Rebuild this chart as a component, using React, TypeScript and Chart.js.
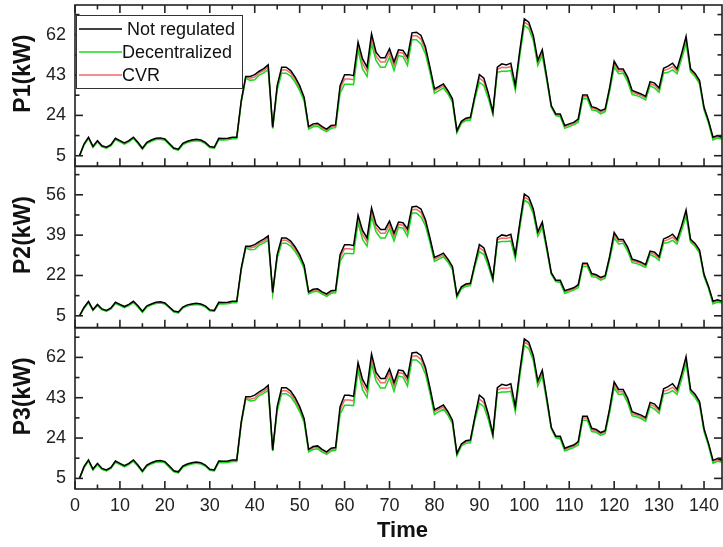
import React, { useEffect, useRef } from "react";
import { Chart, registerables } from "chart.js";

Chart.register(...registerables);

// ---------- data ----------
const X_MIN = 0;
const X_MAX = 144;
const X_MAJOR_TICKS = [0, 10, 20, 30, 40, 50, 60, 70, 80, 90, 100, 110, 120, 130, 140];
const X_MINOR_TICKS = [5, 15, 25, 35, 45, 55, 65, 75, 85, 95, 105, 115, 125, 135];
const X_TITLE = "Time";

const SERIES_NAMES = ["Not regulated", "Decentralized", "CVR"];
const SERIES_COLORS = ["#000000", "#1ed81e", "#f06a6a"];

const P1_TICKS = [5, 24, 43, 62];
const P1_MINOR = [14.5, 33.5, 52.5, 71.5];
const P2_TICKS = [5, 22, 39, 56];
const P2_MINOR = [13.5, 30.5, 47.5, 64.5];
const P3_TICKS = [5, 24, 43, 62];
const P3_MINOR = [14.5, 33.5, 52.5, 71.5];
const P1_RANGE = [0, 76];
const P2_RANGE = [0, 68];
const P3_RANGE = [0, 76];
const PANEL_TITLES = ["P1(kW)", "P2(kW)", "P3(kW)"];

const P1_NOT_REGULATED = [5.0,10.5,13.7,9.4,12.1,9.7,9.0,10.2,13.2,12.1,
11.0,12.1,13.7,11.3,8.5,11.3,12.4,13.2,13.4,12.9,
10.8,8.6,8.1,10.8,11.8,12.4,12.7,12.4,11.3,9.3,
9.0,13.2,13.1,13.2,13.7,13.7,31.0,42.3,42.3,43.2,
44.8,46.0,47.8,18.4,38.0,46.7,46.7,45.1,42.0,38.0,
32.5,18.7,20.0,20.3,18.7,17.5,19.2,19.5,38.0,43.2,
43.2,42.7,58.5,50.6,46.7,62.4,53.8,51.1,51.1,55.4,
49.1,54.9,54.6,51.4,62.9,63.2,61.7,56.2,46.7,36.5,
37.6,38.8,35.7,31.8,16.8,21.2,22.7,23.1,33.3,43.2,
41.5,34.5,25.5,46.7,48.3,47.8,48.6,38.0,54.6,69.5,
67.9,61.7,49.9,54.9,42.0,28.6,24.7,24.7,19.2,20.0,
20.7,22.3,33.6,33.6,28.1,27.5,26.2,27.0,37.2,49.5,
45.9,45.9,42.0,35.7,34.9,34.1,32.9,39.9,39.2,36.9,
46.2,47.2,48.6,45.9,53.0,61.2,45.9,43.8,40.4,27.8,
21.5,13.7,14.5,13.7];

const P1_DECENTRALIZED = [4.8,10.0,13.1,8.9,11.5,9.2,8.5,9.7,12.6,11.5,
10.4,11.5,13.1,10.7,8.0,10.7,11.8,12.6,12.8,12.3,
10.2,8.1,7.6,10.2,11.2,11.8,12.1,11.8,10.7,8.8,
8.5,12.5,12.4,12.5,13.0,13.0,30.0,41.5,40.5,40.8,
43.0,44.0,45.5,17.8,36.0,43.9,43.9,42.5,39.6,35.8,
30.8,17.5,18.6,18.9,17.4,16.3,17.9,18.2,34.5,38.7,
38.7,38.5,54.6,45.9,42.3,57.7,49.9,46.7,46.7,51.4,
45.1,52.2,51.7,47.5,59.6,59.6,57.7,53.0,44.3,34.4,
35.7,36.9,34.1,30.2,15.7,20.3,21.5,21.8,31.8,39.6,
38.0,32.0,24.5,44.3,44.8,44.8,45.1,35.7,52.2,66.4,
64.8,59.3,47.5,52.2,40.4,27.8,23.9,23.4,17.9,18.7,
19.5,20.7,31.8,31.8,26.6,26.2,24.7,25.7,35.4,46.7,
43.6,43.9,39.9,33.8,33.3,32.5,31.3,38.0,36.9,34.9,
43.9,44.3,45.4,43.6,50.6,58.0,44.6,42.3,38.8,26.6,
20.4,12.4,13.3,12.8];

const P1_CVR = [4.9,10.2,13.4,9.1,11.8,9.4,8.7,9.9,12.9,11.8,
10.7,11.8,13.4,11.0,8.2,11.0,12.1,12.9,13.1,12.6,
10.5,8.3,7.8,10.5,11.5,12.1,12.4,12.1,11.0,9.0,
8.7,12.9,12.8,12.9,13.4,13.4,30.5,41.9,41.5,42.1,
44.0,45.1,46.8,18.1,37.1,45.4,45.4,43.9,40.9,37.0,
31.7,18.2,19.4,19.7,18.1,16.9,18.6,18.9,36.4,41.1,
41.1,40.8,56.8,48.5,44.7,60.3,52.0,49.1,49.1,53.6,
47.3,53.7,53.3,49.6,61.4,61.6,59.9,54.8,45.6,35.6,
36.8,37.9,35.0,31.1,16.3,20.8,22.2,22.5,32.7,41.6,
39.9,33.4,25.0,45.7,46.7,46.4,47.0,37.0,53.5,68.0,
66.5,60.6,48.8,53.7,41.3,28.2,24.3,24.1,18.6,19.4,
20.1,21.6,32.8,32.8,27.4,26.9,25.5,26.4,36.4,48.2,
44.8,45.0,41.0,34.8,34.2,33.4,32.2,39.0,38.1,36.0,
45.1,45.8,47.0,44.8,51.8,59.6,45.3,43.1,39.6,27.2,
21.0,13.1,13.9,13.3];

const P2_NOT_REGULATED = [5.0,8.5,11.1,7.6,9.8,7.9,7.3,8.3,10.7,9.8,
8.9,9.8,11.1,9.2,6.9,9.2,10.0,10.7,10.9,10.4,
8.7,7.0,6.6,8.7,9.6,10.0,10.3,10.0,9.2,7.5,
7.3,10.7,10.6,10.7,11.1,11.1,25.1,34.3,34.3,35.0,
36.3,37.3,38.7,14.9,30.8,37.8,37.8,36.5,34.0,30.8,
26.3,15.1,16.2,16.4,15.1,14.2,15.6,15.8,30.8,35.0,
35.0,34.6,47.4,41.0,37.8,50.5,43.6,41.4,41.4,44.9,
39.8,44.5,44.2,41.6,50.9,51.2,50.0,45.5,37.8,29.6,
30.5,31.4,28.9,25.8,13.6,17.2,18.4,18.7,27.0,35.0,
33.6,27.9,20.7,37.8,39.1,38.7,39.4,30.8,44.2,56.3,
55.0,50.0,40.4,44.5,34.0,23.2,20.0,20.0,15.6,16.2,
16.8,18.1,27.2,27.2,22.8,22.3,21.2,21.9,30.1,40.1,
37.2,37.2,34.0,28.9,28.3,27.6,26.6,32.3,31.8,29.9,
37.4,38.2,39.4,37.2,42.9,49.6,37.2,35.5,32.7,22.5,
17.4,11.1,11.7,11.1];

const P2_DECENTRALIZED = [4.9,8.1,10.6,7.2,9.3,7.5,6.9,7.9,10.2,9.3,
8.4,9.3,10.6,8.7,6.5,8.7,9.6,10.2,10.4,10.0,
8.3,6.6,6.2,8.3,9.1,9.6,9.8,9.6,8.7,7.1,
6.9,10.1,10.0,10.1,10.5,10.5,24.3,33.6,32.8,33.0,
34.8,35.6,36.9,14.4,29.2,35.6,35.6,34.4,32.1,29.0,
24.9,14.2,15.1,15.3,14.1,13.2,14.5,14.7,27.9,31.3,
31.3,31.2,44.2,37.2,34.3,46.7,40.4,37.8,37.8,41.6,
36.5,42.3,41.9,38.5,48.3,48.3,46.7,42.9,35.9,27.9,
28.9,29.9,27.6,24.5,12.7,16.4,17.4,17.7,25.8,32.1,
30.8,25.9,19.8,35.9,36.3,36.3,36.5,28.9,42.3,53.8,
52.5,48.0,38.5,42.3,32.7,22.5,19.4,19.0,14.5,15.1,
15.8,16.8,25.8,25.8,21.5,21.2,20.0,20.8,28.7,37.8,
35.3,35.6,32.3,27.4,27.0,26.3,25.4,30.8,29.9,28.3,
35.6,35.9,36.8,35.3,41.0,47.0,36.1,34.3,31.4,21.5,
16.5,10.0,10.8,10.4];

const P2_CVR = [5.0,8.3,10.9,7.4,9.6,7.6,7.0,8.0,10.4,9.6,
8.7,9.6,10.9,8.9,6.6,8.9,9.8,10.4,10.6,10.2,
8.5,6.7,6.3,8.5,9.3,9.8,10.0,9.8,8.9,7.3,
7.0,10.4,10.4,10.4,10.9,10.9,24.7,33.9,33.6,34.1,
35.6,36.5,37.9,14.7,30.1,36.8,36.8,35.6,33.1,30.0,
25.7,14.7,15.7,16.0,14.7,13.7,15.1,15.3,29.5,33.3,
33.3,33.0,46.0,39.3,36.2,48.8,42.1,39.8,39.8,43.4,
38.3,43.5,43.2,40.2,49.7,49.9,48.5,44.4,36.9,28.8,
29.8,30.7,28.4,25.2,13.2,16.8,18.0,18.2,26.5,33.7,
32.3,27.1,20.3,37.0,37.8,37.6,38.1,30.0,43.3,55.1,
53.9,49.1,39.5,43.5,33.5,22.8,19.7,19.5,15.1,15.7,
16.3,17.5,26.6,26.6,22.2,21.8,20.7,21.4,29.5,39.0,
36.3,36.5,33.2,28.2,27.7,27.1,26.1,31.6,30.9,29.2,
36.5,37.1,38.1,36.3,42.0,48.3,36.7,34.9,32.1,22.0,
17.0,10.6,11.3,10.8];

const P3_NOT_REGULATED = [5.0,10.5,13.7,9.4,12.1,9.7,9.0,10.2,13.2,12.1,
11.0,12.1,13.7,11.3,8.5,11.3,12.4,13.2,13.4,12.9,
10.8,8.6,8.1,10.8,11.8,12.4,12.7,12.4,11.3,9.3,
9.0,13.2,13.1,13.2,13.7,13.7,31.6,43.4,43.4,44.2,
45.8,47.0,48.8,18.4,38.8,47.7,47.7,46.1,43.0,38.8,
33.1,18.7,20.0,20.3,18.7,17.5,19.2,19.5,38.8,44.2,
44.2,43.7,59.6,51.6,47.7,63.6,54.9,52.1,52.1,56.5,
50.1,56.0,55.7,52.4,64.1,64.4,62.9,57.3,47.7,37.3,
38.4,39.6,36.5,32.4,16.8,21.2,22.7,23.1,34.0,44.2,
42.4,35.2,25.8,47.7,49.3,48.8,49.6,38.8,55.7,70.7,
69.1,62.9,50.9,56.0,42.9,29.1,24.9,24.9,19.2,20.0,
20.7,22.3,34.3,34.3,28.6,28.0,26.6,27.5,38.0,50.5,
46.9,46.9,42.9,36.4,35.6,34.8,33.6,40.8,40.0,37.6,
47.2,48.2,49.6,46.9,54.1,62.4,46.9,44.7,41.2,28.4,
21.5,13.5,14.3,13.5];

const P3_DECENTRALIZED = [4.8,10.0,13.1,8.9,11.5,9.2,8.5,9.7,12.6,11.5,
10.4,11.5,13.1,10.7,8.0,10.7,11.8,12.6,12.8,12.3,
10.2,8.1,7.6,10.2,11.2,11.8,12.1,11.8,10.7,8.8,
8.5,12.5,12.4,12.5,13.0,13.0,30.6,42.5,41.5,41.8,
44.0,45.0,46.5,17.8,36.7,44.9,44.9,43.5,40.4,36.5,
31.4,17.5,18.6,18.9,17.4,16.3,17.9,18.2,35.2,39.5,
39.5,39.3,55.7,46.8,43.1,58.9,50.9,47.6,47.6,52.4,
46.0,53.2,52.7,48.5,60.8,60.8,58.9,54.1,45.2,35.1,
36.4,37.6,34.8,30.8,15.7,20.3,21.5,21.8,32.4,40.4,
38.8,32.6,24.7,45.2,45.7,45.7,46.0,36.4,53.2,67.7,
66.1,60.5,48.5,53.2,41.2,28.4,24.1,23.6,17.9,18.7,
19.5,20.7,32.4,32.4,27.1,26.7,25.2,26.2,36.1,47.6,
44.5,44.8,40.7,34.5,34.0,33.2,31.9,38.8,37.6,35.6,
44.8,45.2,46.3,44.5,51.6,59.2,45.5,43.1,39.6,27.1,
20.4,12.2,13.1,12.6];

const P3_CVR = [4.9,10.2,13.4,9.1,11.8,9.4,8.7,9.9,12.9,11.8,
10.7,11.8,13.4,11.0,8.2,11.0,12.1,12.9,13.1,12.6,
10.5,8.3,7.8,10.5,11.5,12.1,12.4,12.1,11.0,9.0,
8.7,12.9,12.8,12.9,13.4,13.4,31.1,42.7,42.3,42.9,
44.9,46.0,47.7,18.1,37.8,46.3,46.3,44.8,41.7,37.7,
32.3,18.2,19.4,19.7,18.1,16.9,18.6,18.9,37.1,41.9,
41.9,41.6,57.9,49.5,45.6,61.5,53.0,50.1,50.1,54.7,
48.2,54.8,54.4,50.6,62.6,62.8,61.1,55.9,46.5,36.3,
37.5,38.7,35.7,31.7,16.3,20.8,22.2,22.5,33.4,42.4,
40.7,34.1,25.2,46.6,47.6,47.3,47.9,37.7,54.6,69.4,
67.8,61.8,49.8,54.8,42.1,28.8,24.5,24.3,18.6,19.4,
20.1,21.6,33.5,33.5,27.9,27.4,26.0,26.9,37.1,49.2,
45.7,45.9,41.8,35.5,34.9,34.1,32.8,39.8,38.9,36.7,
46.0,46.7,47.9,45.7,52.8,60.8,46.2,44.0,40.4,27.7,
21.0,12.9,13.7,13.1];

// ---------- config built from the data ----------
const FONT = "'Liberation Sans', Arial, Helvetica, sans-serif";
const INK = "#222222";

const PANELS = [
  { axis: "y1", title: PANEL_TITLES[0], ticks: P1_TICKS, minor: P1_MINOR, range: P1_RANGE, series: [P1_NOT_REGULATED, P1_DECENTRALIZED, P1_CVR] },
  { axis: "y2", title: PANEL_TITLES[1], ticks: P2_TICKS, minor: P2_MINOR, range: P2_RANGE, series: [P2_NOT_REGULATED, P2_DECENTRALIZED, P2_CVR] },
  { axis: "y3", title: PANEL_TITLES[2], ticks: P3_TICKS, minor: P3_MINOR, range: P3_RANGE, series: [P3_NOT_REGULATED, P3_DECENTRALIZED, P3_CVR] },
];

function toPoints(values: number[]) {
  return values.map((v, i) => ({ x: i + 1, y: v }));
}

const MAJOR_LEN = 8;
const MINOR_LEN = 4.5;

const framePlugin = {
  id: "originFrames",
  afterDraw(chart: any) {
    const ctx: CanvasRenderingContext2D = chart.ctx;
    const { left, right } = chart.chartArea;
    const xs = chart.scales.x;
    const line = (x1: number, y1: number, x2: number, y2: number) => {
      ctx.beginPath();
      ctx.moveTo(x1, y1);
      ctx.lineTo(x2, y2);
      ctx.stroke();
    };
    ctx.save();
    ctx.strokeStyle = INK;
    ctx.lineWidth = 1.6;
    PANELS.forEach((p, idx) => {
      const ys = chart.scales[p.axis];
      const top = ys.top;
      const bottom = ys.bottom;
      ctx.strokeRect(left, top, right - left, bottom - top);
      p.ticks.forEach((v) => {
        const y = ys.getPixelForValue(v);
        line(left, y, left + MAJOR_LEN, y);
        line(right, y, right - MAJOR_LEN, y);
      });
      p.minor.forEach((v) => {
        const y = ys.getPixelForValue(v);
        line(left, y, left + MINOR_LEN, y);
        line(right, y, right - MINOR_LEN, y);
      });
      X_MAJOR_TICKS.forEach((v) => {
        const x = xs.getPixelForValue(v);
        line(x, bottom, x, bottom - MAJOR_LEN);
        if (idx === 0) line(x, top, x, top + MAJOR_LEN);
      });
      X_MINOR_TICKS.forEach((v) => {
        const x = xs.getPixelForValue(v);
        line(x, bottom, x, bottom - MINOR_LEN);
        if (idx === 0) line(x, top, x, top + MINOR_LEN);
      });
      // axis title
      ctx.save();
      ctx.translate(24, (top + bottom) / 2 - 12);
      ctx.rotate(-Math.PI / 2);
      ctx.fillStyle = "#111";
      ctx.font = `bold 23px ${FONT}`;
      ctx.textAlign = "center";
      ctx.textBaseline = "middle";
      ctx.fillText(p.title, 0, 0);
      ctx.restore();
    });

    // x title
    ctx.fillStyle = "#111";
    ctx.font = `bold 22px ${FONT}`;
    ctx.textAlign = "center";
    ctx.textBaseline = "middle";
    ctx.fillText(X_TITLE, (left + right) / 2 + 4, 531);

    // legend inside top panel
    const ys1 = chart.scales.y1;
    const lx = left + 1;
    const ly = ys1.top + 10;
    const lw = 166;
    const lh = 73;
    ctx.fillStyle = "#ffffff";
    ctx.fillRect(lx, ly, lw, lh);
    ctx.lineWidth = 1;
    ctx.strokeStyle = "#333";
    ctx.strokeRect(lx + 0.5, ly + 0.5, lw, lh);
    ctx.font = `18px ${FONT}`;
    ctx.textAlign = "left";
    ctx.textBaseline = "middle";
    SERIES_NAMES.forEach((name, i) => {
      const cy = ly + 14 + i * 23;
      ctx.strokeStyle = SERIES_COLORS[i];
      ctx.lineWidth = 1.5;
      line(lx + 3, cy, lx + 46, cy);
      ctx.fillStyle = "#111";
      ctx.fillText(name, lx + (i === 0 ? 51 : 46), cy + 1);
    });
    ctx.restore();
  },
};

function yScale(p: any, weight: number) {
  return {
    type: "linear",
    position: "left",
    stack: "panels",
    stackWeight: 1,
    weight,
    min: p.range[0],
    max: p.range[1],
    grid: { display: false, drawTicks: false, tickLength: 0 },
    border: { display: false },
    ticks: {
      padding: 9,
      color: INK,
      font: { family: FONT, size: 18 },
    },
    afterBuildTicks: (s: any) => {
      s.ticks = p.ticks.map((v: number) => ({ value: v }));
    },
    afterFit: (s: any) => {
      s.width = 75;
      s.paddingTop = 0;
      s.paddingBottom = 0;
    },
  };
}

export default function App() {
  const ref = useRef<HTMLCanvasElement>(null);
  useEffect(() => {
    if (!ref.current) return;
    const datasets: any[] = [];
    PANELS.forEach((p) => {
      p.series.forEach((vals, i) => {
        datasets.push({
          label: `${p.title} ${SERIES_NAMES[i]}`,
          data: toPoints(vals),
          yAxisID: p.axis,
          borderColor: SERIES_COLORS[i],
          backgroundColor: SERIES_COLORS[i],
          borderWidth: 1.5,
          pointRadius: 0,
          tension: 0,
          fill: false,
        });
      });
    });
    const chart = new Chart(ref.current, {
      type: "line",
      data: { datasets },
      options: {
        animation: false,
        responsive: false,
        maintainAspectRatio: false,
        layout: { padding: { top: 5, right: 1, left: 0, bottom: 0 } },
        plugins: { legend: { display: false }, tooltip: { enabled: false } },
        scales: {
          x: {
            type: "linear",
            position: "bottom",
            min: X_MIN,
            max: X_MAX,
            grid: { display: false, drawTicks: false, tickLength: 0 },
            border: { display: false },
            ticks: {
              padding: 6,
              color: INK,
              autoSkip: false,
              maxRotation: 0,
              font: { family: FONT, size: 18 },
            },
            afterBuildTicks: (s: any) => {
              s.ticks = X_MAJOR_TICKS.map((v) => ({ value: v }));
            },
            afterFit: (s: any) => {
              s.height = 58;
              s.paddingLeft = 0;
              s.paddingRight = 0;
            },
          },
          y3: yScale(PANELS[2], 1),
          y2: yScale(PANELS[1], 2),
          y1: yScale(PANELS[0], 3),
        } as any,
      },
      plugins: [framePlugin],
    } as any);
    return () => chart.destroy();
  }, []);
  return (
    <div style={{ position: "absolute", left: 0, top: 0, width: 723, height: 547, background: "#fff" }}>
      <canvas ref={ref} width={723} height={547} style={{ display: "block", width: 723, height: 547 }} />
    </div>
  );
}
